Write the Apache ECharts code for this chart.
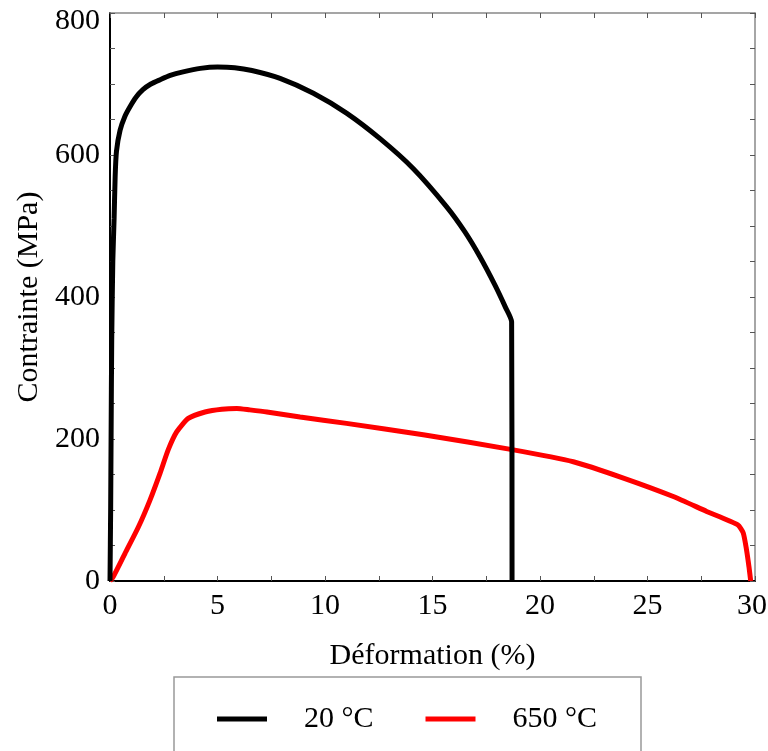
<!DOCTYPE html>
<html>
<head>
<meta charset="utf-8">
<script src="https://cdn.jsdelivr.net/npm/echarts@6/dist/echarts.min.js"></script>
<style>
html,body{margin:0;padding:0;background:#fff;}
#chart{width:768px;height:751px;}
</style>
</head>
<body>
<div id="chart"></div>
<script>
var seriesNames = ['20 °C', '650 °C'];
var xAxisTitle = 'Déformation (%)';
var yAxisTitle = 'Contrainte (MPa)';
var xTicks = [0, 5, 10, 15, 20, 25, 30];
var yTicks = [0, 200, 400, 600, 800];

var curve20 = [
  [0, 0], [0.03, 100], [0.05, 200], [0.08, 340], [0.13, 450], [0.19, 510],
  [0.24, 570], [0.3, 605], [0.47, 635], [0.7, 655], [0.93, 668], [1.2, 681],
  [1.53, 692], [1.9, 700], [2.33, 706], [2.8, 712], [3.4, 717], [4.2, 722],
  [5.0, 724], [5.8, 723], [6.6, 719], [7.91, 708], [9.46, 687], [11.0, 659],
  [12.56, 623], [14.1, 581], [15.66, 527], [16.5, 492], [17.2, 457],
  [17.9, 417], [18.4, 385], [18.68, 365], [18.7, 0]
];
var curve650 = [
  [0, 0], [0.15, 6], [0.7, 39], [1.32, 76], [1.86, 114], [2.33, 152],
  [2.71, 185], [3.1, 210], [3.64, 229], [4.42, 238], [5.2, 242],
  [5.9, 243], [6.5, 241], [7.3, 238], [8.84, 231], [11.0, 222],
  [14.57, 206], [18.7, 185], [21.55, 168], [23.88, 145], [26.2, 119],
  [27.75, 98], [29.2, 79], [29.45, 68], [29.6, 45], [29.72, 20], [29.8, 0]
];

var FONT = 'Liberation Serif';
var chart = echarts.init(document.getElementById('chart'), null, {renderer: 'canvas'});
var tickStyle = {show: true, inside: true, length: 5, lineStyle: {color: '#555', width: 1}};
var minorStyle = {show: true, length: 5, lineStyle: {color: '#555', width: 1}};
chart.setOption({
  backgroundColor: '#fff',
  animation: false,
  grid: {left: 110, right: 13, top: 13, bottom: 170, containLabel: false, outerBoundsMode: 'none'},
  graphic: [{
    type: 'rect', z: 0,
    shape: {x: 174, y: 677, width: 467, height: 120},
    style: {fill: 'none', stroke: '#999', lineWidth: 1.5}
  }],
  legend: {
    data: seriesNames,
    left: 212, top: 699,
    icon: 'rect', itemWidth: 50, itemHeight: 5, itemGap: 52,
    textStyle: {fontFamily: FONT, fontSize: 30, color: '#000', padding: [0, 0, 0, 32], lineHeight: 30}
  },
  xAxis: [{
    type: 'value', min: 0, max: 30, interval: 5,
    name: xAxisTitle, nameLocation: 'middle', nameGap: 60,
    nameTextStyle: {fontFamily: FONT, fontSize: 30, color: '#000'},
    axisLine: {show: true, onZero: false, lineStyle: {color: '#000', width: 2}},
    axisTick: tickStyle,
    minorTick: Object.assign({splitNumber: 2}, minorStyle),
    axisLabel: {fontFamily: FONT, fontSize: 30, color: '#000', margin: 10,
      formatter: function (v) {
        if (xTicks.indexOf(v) < 0) return '';
        return v === 30 ? '{last|' + v + '}' : String(v);
      },
      rich: {last: {fontFamily: FONT, fontSize: 30, color: '#000', padding: [0, 6, 0, 0]}}
    },
    splitLine: {show: false}
  }, {
    type: 'value', min: 0, max: 30, interval: 5, position: 'top',
    axisLine: {show: true, onZero: false, lineStyle: {color: '#888', width: 1.5}},
    axisTick: tickStyle,
    minorTick: Object.assign({splitNumber: 2}, minorStyle),
    axisLabel: {show: false}, splitLine: {show: false}
  }],
  yAxis: [{
    type: 'value', min: 0, max: 800, interval: 200,
    name: yAxisTitle, nameLocation: 'middle', nameGap: 66, nameRotate: 90,
    nameTextStyle: {fontFamily: FONT, fontSize: 30, color: '#000'},
    axisLine: {show: true, onZero: false, lineStyle: {color: '#000', width: 2}},
    axisTick: tickStyle,
    minorTick: Object.assign({splitNumber: 4}, minorStyle),
    axisLabel: {fontFamily: FONT, fontSize: 30, color: '#000', margin: 10,
      formatter: function (v) {
        if (yTicks.indexOf(v) < 0) return '';
        return v === 800 ? '{top|' + v + '}' : String(v);
      },
      rich: {top: {fontFamily: FONT, fontSize: 30, color: '#000', padding: [16, 0, 0, 0]}}
    },
    splitLine: {show: false}
  }, {
    type: 'value', min: 0, max: 800, interval: 200, position: 'right',
    axisLine: {show: true, onZero: false, lineStyle: {color: '#888', width: 1.5}},
    axisTick: tickStyle,
    minorTick: Object.assign({splitNumber: 4}, minorStyle),
    axisLabel: {show: false}, splitLine: {show: false}
  }],
  series: [{
    name: seriesNames[0], type: 'line', data: curve20, showSymbol: false, symbol: 'none',
    smooth: 0.2, lineStyle: {color: '#000', width: 5}, itemStyle: {color: '#000'}, z: 3
  }, {
    name: seriesNames[1], type: 'line', data: curve650, showSymbol: false, symbol: 'none',
    smooth: 0.2, lineStyle: {color: '#ff0000', width: 5}, itemStyle: {color: '#ff0000'}, z: 2
  }]
});
</script>
</body>
</html>
